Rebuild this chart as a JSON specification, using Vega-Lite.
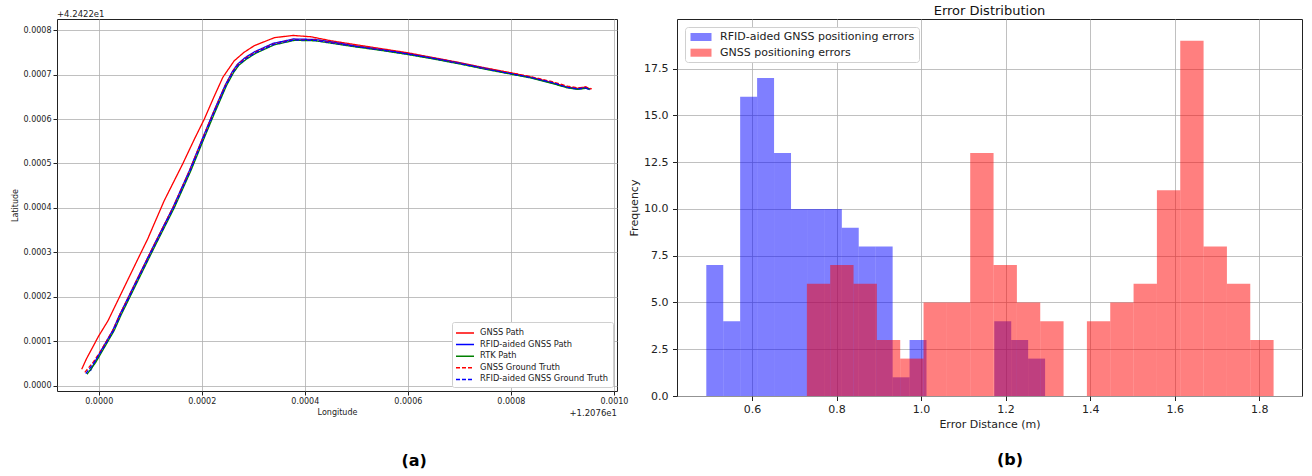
{
  "$schema": "https://vega.github.io/schema/vega-lite/v6.json",
  "background": "white",
  "padding": {"left": 10, "top": 4, "right": 2, "bottom": 4},
  "spacing": -1,
  "columns": 2,
  "align": "none",
  "resolve": {"scale": {"color": "independent", "strokeDash": "independent", "x": "independent", "y": "independent"}, "legend": {"color": "independent", "strokeDash": "independent"}},
  "config": {
    "font": "DejaVu Sans",
    "view": {"stroke": "#222", "strokeWidth": 1},
    "axis": {"gridColor": "#b0b0b0", "gridWidth": 0.8, "domain": false, "tickColor": "#222", "labelColor": "#222", "titleColor": "#222", "titleFontWeight": "normal", "labelFlush": false, "labelOverlap": false},
    "legend": {"labelLimit": 400},
    "title": {"color": "#111"}
  },
  "datasets": {
    "paths": [
      {"s": "GNSS Path", "i": 0, "x": -0.000033, "y": 0.000037},
      {"s": "GNSS Path", "i": 1, "x": -0.000024, "y": 0.000060},
      {"s": "GNSS Path", "i": 2, "x": -0.000012, "y": 0.000086},
      {"s": "GNSS Path", "i": 3, "x": 0.000000, "y": 0.000112},
      {"s": "GNSS Path", "i": 4, "x": 0.000018, "y": 0.000146},
      {"s": "GNSS Path", "i": 5, "x": 0.000043, "y": 0.000206},
      {"s": "GNSS Path", "i": 6, "x": 0.000076, "y": 0.000285},
      {"s": "GNSS Path", "i": 7, "x": 0.000095, "y": 0.000330},
      {"s": "GNSS Path", "i": 8, "x": 0.000127, "y": 0.000416},
      {"s": "GNSS Path", "i": 9, "x": 0.000163, "y": 0.000499},
      {"s": "GNSS Path", "i": 10, "x": 0.000185, "y": 0.000553},
      {"s": "GNSS Path", "i": 11, "x": 0.000205, "y": 0.000600},
      {"s": "GNSS Path", "i": 12, "x": 0.000223, "y": 0.000648},
      {"s": "GNSS Path", "i": 13, "x": 0.000241, "y": 0.000694},
      {"s": "GNSS Path", "i": 14, "x": 0.000263, "y": 0.000731},
      {"s": "GNSS Path", "i": 15, "x": 0.000282, "y": 0.000750},
      {"s": "GNSS Path", "i": 16, "x": 0.000302, "y": 0.000765},
      {"s": "GNSS Path", "i": 17, "x": 0.000341, "y": 0.000783},
      {"s": "GNSS Path", "i": 18, "x": 0.000377, "y": 0.000788},
      {"s": "GNSS Path", "i": 19, "x": 0.000412, "y": 0.000785},
      {"s": "GNSS Path", "i": 20, "x": 0.000451, "y": 0.000776},
      {"s": "GNSS Path", "i": 21, "x": 0.000500, "y": 0.000767},
      {"s": "GNSS Path", "i": 22, "x": 0.000550, "y": 0.000758},
      {"s": "GNSS Path", "i": 23, "x": 0.000600, "y": 0.000749},
      {"s": "GNSS Path", "i": 24, "x": 0.000650, "y": 0.000738},
      {"s": "GNSS Path", "i": 25, "x": 0.000700, "y": 0.000727},
      {"s": "GNSS Path", "i": 26, "x": 0.000750, "y": 0.000715},
      {"s": "GNSS Path", "i": 27, "x": 0.000800, "y": 0.000704},
      {"s": "GNSS Path", "i": 28, "x": 0.000840, "y": 0.000694},
      {"s": "GNSS Path", "i": 29, "x": 0.000880, "y": 0.000682},
      {"s": "GNSS Path", "i": 30, "x": 0.000910, "y": 0.000672},
      {"s": "GNSS Path", "i": 31, "x": 0.000930, "y": 0.000669},
      {"s": "GNSS Path", "i": 32, "x": 0.000945, "y": 0.000672},
      {"s": "GNSS Path", "i": 33, "x": 0.000955, "y": 0.000667},

      {"s": "RFID-aided GNSS Path", "i": 0, "x": -0.0000163, "y": 0.000033},
      {"s": "RFID-aided GNSS Path", "i": 1, "x": -0.000009, "y": 0.000050},
      {"s": "RFID-aided GNSS Path", "i": 2, "x": 0.000005, "y": 0.000080},
      {"s": "RFID-aided GNSS Path", "i": 3, "x": 0.000017, "y": 0.000104},
      {"s": "RFID-aided GNSS Path", "i": 4, "x": 0.000027, "y": 0.000124},
      {"s": "RFID-aided GNSS Path", "i": 5, "x": 0.000040, "y": 0.000158},
      {"s": "RFID-aided GNSS Path", "i": 6, "x": 0.000073, "y": 0.000236},
      {"s": "RFID-aided GNSS Path", "i": 7, "x": 0.000107, "y": 0.000316},
      {"s": "RFID-aided GNSS Path", "i": 8, "x": 0.000144, "y": 0.000401},
      {"s": "RFID-aided GNSS Path", "i": 9, "x": 0.000176, "y": 0.000484},
      {"s": "RFID-aided GNSS Path", "i": 10, "x": 0.000202, "y": 0.000558},
      {"s": "RFID-aided GNSS Path", "i": 11, "x": 0.000221, "y": 0.000611},
      {"s": "RFID-aided GNSS Path", "i": 12, "x": 0.000245, "y": 0.000675},
      {"s": "RFID-aided GNSS Path", "i": 13, "x": 0.000259, "y": 0.000706},
      {"s": "RFID-aided GNSS Path", "i": 14, "x": 0.000269, "y": 0.000723},
      {"s": "RFID-aided GNSS Path", "i": 15, "x": 0.000284, "y": 0.000738},
      {"s": "RFID-aided GNSS Path", "i": 16, "x": 0.000302, "y": 0.000751},
      {"s": "RFID-aided GNSS Path", "i": 17, "x": 0.000338, "y": 0.000770},
      {"s": "RFID-aided GNSS Path", "i": 18, "x": 0.000378, "y": 0.000780},
      {"s": "RFID-aided GNSS Path", "i": 19, "x": 0.000420, "y": 0.000779},
      {"s": "RFID-aided GNSS Path", "i": 20, "x": 0.000460, "y": 0.000772},
      {"s": "RFID-aided GNSS Path", "i": 21, "x": 0.000500, "y": 0.000764},
      {"s": "RFID-aided GNSS Path", "i": 22, "x": 0.000550, "y": 0.000756},
      {"s": "RFID-aided GNSS Path", "i": 23, "x": 0.000600, "y": 0.000747},
      {"s": "RFID-aided GNSS Path", "i": 24, "x": 0.000650, "y": 0.000737},
      {"s": "RFID-aided GNSS Path", "i": 25, "x": 0.000700, "y": 0.000726},
      {"s": "RFID-aided GNSS Path", "i": 26, "x": 0.000750, "y": 0.000714},
      {"s": "RFID-aided GNSS Path", "i": 27, "x": 0.000800, "y": 0.000702},
      {"s": "RFID-aided GNSS Path", "i": 28, "x": 0.000840, "y": 0.000693},
      {"s": "RFID-aided GNSS Path", "i": 29, "x": 0.000880, "y": 0.000681},
      {"s": "RFID-aided GNSS Path", "i": 30, "x": 0.000910, "y": 0.000671},
      {"s": "RFID-aided GNSS Path", "i": 31, "x": 0.000930, "y": 0.000667},
      {"s": "RFID-aided GNSS Path", "i": 32, "x": 0.000945, "y": 0.000670},
      {"s": "RFID-aided GNSS Path", "i": 33, "x": 0.000953, "y": 0.000666},

      {"s": "RTK Path", "i": 0, "x": -0.0000227, "y": 0.0000257},
      {"s": "RTK Path", "i": 1, "x": -0.000006, "y": 0.000052},
      {"s": "RTK Path", "i": 2, "x": 0.000008, "y": 0.000080},
      {"s": "RTK Path", "i": 3, "x": 0.000020, "y": 0.000104},
      {"s": "RTK Path", "i": 4, "x": 0.000030, "y": 0.000124},
      {"s": "RTK Path", "i": 5, "x": 0.000043, "y": 0.000158},
      {"s": "RTK Path", "i": 6, "x": 0.000076, "y": 0.000236},
      {"s": "RTK Path", "i": 7, "x": 0.000110, "y": 0.000316},
      {"s": "RTK Path", "i": 8, "x": 0.000147, "y": 0.000401},
      {"s": "RTK Path", "i": 9, "x": 0.000179, "y": 0.000484},
      {"s": "RTK Path", "i": 10, "x": 0.000205, "y": 0.000558},
      {"s": "RTK Path", "i": 11, "x": 0.000224, "y": 0.000611},
      {"s": "RTK Path", "i": 12, "x": 0.000248, "y": 0.000675},
      {"s": "RTK Path", "i": 13, "x": 0.000262, "y": 0.000705},
      {"s": "RTK Path", "i": 14, "x": 0.000272, "y": 0.000721},
      {"s": "RTK Path", "i": 15, "x": 0.000287, "y": 0.000735},
      {"s": "RTK Path", "i": 16, "x": 0.000305, "y": 0.000748},
      {"s": "RTK Path", "i": 17, "x": 0.000341, "y": 0.000767},
      {"s": "RTK Path", "i": 18, "x": 0.000380, "y": 0.000777},
      {"s": "RTK Path", "i": 19, "x": 0.000420, "y": 0.000776},
      {"s": "RTK Path", "i": 20, "x": 0.000460, "y": 0.000769},
      {"s": "RTK Path", "i": 21, "x": 0.000500, "y": 0.000762},
      {"s": "RTK Path", "i": 22, "x": 0.000550, "y": 0.000754},
      {"s": "RTK Path", "i": 23, "x": 0.000600, "y": 0.000745},
      {"s": "RTK Path", "i": 24, "x": 0.000650, "y": 0.000735},
      {"s": "RTK Path", "i": 25, "x": 0.000700, "y": 0.000724},
      {"s": "RTK Path", "i": 26, "x": 0.000750, "y": 0.000712},
      {"s": "RTK Path", "i": 27, "x": 0.000800, "y": 0.000701},
      {"s": "RTK Path", "i": 28, "x": 0.000840, "y": 0.000692},
      {"s": "RTK Path", "i": 29, "x": 0.000880, "y": 0.000680},
      {"s": "RTK Path", "i": 30, "x": 0.000910, "y": 0.000670},
      {"s": "RTK Path", "i": 31, "x": 0.000930, "y": 0.000667},
      {"s": "RTK Path", "i": 32, "x": 0.000945, "y": 0.000669},
      {"s": "RTK Path", "i": 33, "x": 0.000953, "y": 0.000668},

      {"s": "GNSS Ground Truth", "i": 0, "x": -0.000027, "y": 0.000030},
      {"s": "GNSS Ground Truth", "i": 1, "x": -0.000010, "y": 0.000054},
      {"s": "GNSS Ground Truth", "i": 2, "x": 0.000006, "y": 0.000082},
      {"s": "GNSS Ground Truth", "i": 3, "x": 0.000018, "y": 0.000106},
      {"s": "GNSS Ground Truth", "i": 4, "x": 0.000028, "y": 0.000126},
      {"s": "GNSS Ground Truth", "i": 5, "x": 0.000041, "y": 0.000160},
      {"s": "GNSS Ground Truth", "i": 6, "x": 0.000074, "y": 0.000238},
      {"s": "GNSS Ground Truth", "i": 7, "x": 0.000108, "y": 0.000318},
      {"s": "GNSS Ground Truth", "i": 8, "x": 0.000145, "y": 0.000403},
      {"s": "GNSS Ground Truth", "i": 9, "x": 0.000177, "y": 0.000486},
      {"s": "GNSS Ground Truth", "i": 10, "x": 0.000203, "y": 0.000560},
      {"s": "GNSS Ground Truth", "i": 11, "x": 0.000222, "y": 0.000613},
      {"s": "GNSS Ground Truth", "i": 12, "x": 0.000246, "y": 0.000677},
      {"s": "GNSS Ground Truth", "i": 13, "x": 0.000260, "y": 0.000707},
      {"s": "GNSS Ground Truth", "i": 14, "x": 0.000270, "y": 0.000723},
      {"s": "GNSS Ground Truth", "i": 15, "x": 0.000285, "y": 0.000737},
      {"s": "GNSS Ground Truth", "i": 16, "x": 0.000303, "y": 0.000750},
      {"s": "GNSS Ground Truth", "i": 17, "x": 0.000340, "y": 0.000769},
      {"s": "GNSS Ground Truth", "i": 18, "x": 0.000379, "y": 0.000779},
      {"s": "GNSS Ground Truth", "i": 19, "x": 0.000420, "y": 0.000778},
      {"s": "GNSS Ground Truth", "i": 20, "x": 0.000460, "y": 0.000771},
      {"s": "GNSS Ground Truth", "i": 21, "x": 0.000500, "y": 0.000764},
      {"s": "GNSS Ground Truth", "i": 22, "x": 0.000550, "y": 0.000756},
      {"s": "GNSS Ground Truth", "i": 23, "x": 0.000600, "y": 0.000747},
      {"s": "GNSS Ground Truth", "i": 24, "x": 0.000650, "y": 0.000737},
      {"s": "GNSS Ground Truth", "i": 25, "x": 0.000700, "y": 0.000726},
      {"s": "GNSS Ground Truth", "i": 26, "x": 0.000750, "y": 0.000714},
      {"s": "GNSS Ground Truth", "i": 27, "x": 0.000800, "y": 0.000704},
      {"s": "GNSS Ground Truth", "i": 28, "x": 0.000840, "y": 0.000695},
      {"s": "GNSS Ground Truth", "i": 29, "x": 0.000880, "y": 0.000684},
      {"s": "GNSS Ground Truth", "i": 30, "x": 0.000910, "y": 0.000674},
      {"s": "GNSS Ground Truth", "i": 31, "x": 0.000930, "y": 0.000670},
      {"s": "GNSS Ground Truth", "i": 32, "x": 0.000945, "y": 0.000672},
      {"s": "GNSS Ground Truth", "i": 33, "x": 0.000957, "y": 0.000668},

      {"s": "RFID-aided GNSS Ground Truth", "i": 0, "x": -0.000025, "y": 0.000027},
      {"s": "RFID-aided GNSS Ground Truth", "i": 1, "x": -0.000009, "y": 0.000052},
      {"s": "RFID-aided GNSS Ground Truth", "i": 2, "x": 0.000007, "y": 0.000081},
      {"s": "RFID-aided GNSS Ground Truth", "i": 3, "x": 0.000019, "y": 0.000105},
      {"s": "RFID-aided GNSS Ground Truth", "i": 4, "x": 0.000029, "y": 0.000125},
      {"s": "RFID-aided GNSS Ground Truth", "i": 5, "x": 0.000042, "y": 0.000159},
      {"s": "RFID-aided GNSS Ground Truth", "i": 6, "x": 0.000075, "y": 0.000237},
      {"s": "RFID-aided GNSS Ground Truth", "i": 7, "x": 0.000109, "y": 0.000317},
      {"s": "RFID-aided GNSS Ground Truth", "i": 8, "x": 0.000146, "y": 0.000402},
      {"s": "RFID-aided GNSS Ground Truth", "i": 9, "x": 0.000178, "y": 0.000485},
      {"s": "RFID-aided GNSS Ground Truth", "i": 10, "x": 0.000204, "y": 0.000559},
      {"s": "RFID-aided GNSS Ground Truth", "i": 11, "x": 0.000223, "y": 0.000612},
      {"s": "RFID-aided GNSS Ground Truth", "i": 12, "x": 0.000247, "y": 0.000676},
      {"s": "RFID-aided GNSS Ground Truth", "i": 13, "x": 0.000261, "y": 0.000706},
      {"s": "RFID-aided GNSS Ground Truth", "i": 14, "x": 0.000271, "y": 0.000722},
      {"s": "RFID-aided GNSS Ground Truth", "i": 15, "x": 0.000286, "y": 0.000736},
      {"s": "RFID-aided GNSS Ground Truth", "i": 16, "x": 0.000304, "y": 0.000749},
      {"s": "RFID-aided GNSS Ground Truth", "i": 17, "x": 0.000340, "y": 0.000768},
      {"s": "RFID-aided GNSS Ground Truth", "i": 18, "x": 0.000380, "y": 0.000778},
      {"s": "RFID-aided GNSS Ground Truth", "i": 19, "x": 0.000420, "y": 0.000777},
      {"s": "RFID-aided GNSS Ground Truth", "i": 20, "x": 0.000460, "y": 0.000770},
      {"s": "RFID-aided GNSS Ground Truth", "i": 21, "x": 0.000500, "y": 0.000763},
      {"s": "RFID-aided GNSS Ground Truth", "i": 22, "x": 0.000550, "y": 0.000755},
      {"s": "RFID-aided GNSS Ground Truth", "i": 23, "x": 0.000600, "y": 0.000746},
      {"s": "RFID-aided GNSS Ground Truth", "i": 24, "x": 0.000650, "y": 0.000736},
      {"s": "RFID-aided GNSS Ground Truth", "i": 25, "x": 0.000700, "y": 0.000725},
      {"s": "RFID-aided GNSS Ground Truth", "i": 26, "x": 0.000750, "y": 0.000713},
      {"s": "RFID-aided GNSS Ground Truth", "i": 27, "x": 0.000800, "y": 0.000702},
      {"s": "RFID-aided GNSS Ground Truth", "i": 28, "x": 0.000840, "y": 0.000693},
      {"s": "RFID-aided GNSS Ground Truth", "i": 29, "x": 0.000880, "y": 0.000682},
      {"s": "RFID-aided GNSS Ground Truth", "i": 30, "x": 0.000910, "y": 0.000671},
      {"s": "RFID-aided GNSS Ground Truth", "i": 31, "x": 0.000930, "y": 0.000668},
      {"s": "RFID-aided GNSS Ground Truth", "i": 32, "x": 0.000945, "y": 0.000670},
      {"s": "RFID-aided GNSS Ground Truth", "i": 33, "x": 0.000954, "y": 0.000667}
    ],
    "hist": [
      {"s": "RFID-aided GNSS positioning errors", "x0": 0.4920, "x1": 0.5321, "n": 7},
      {"s": "RFID-aided GNSS positioning errors", "x0": 0.5321, "x1": 0.5721, "n": 4},
      {"s": "RFID-aided GNSS positioning errors", "x0": 0.5721, "x1": 0.6122, "n": 16},
      {"s": "RFID-aided GNSS positioning errors", "x0": 0.6122, "x1": 0.6523, "n": 17},
      {"s": "RFID-aided GNSS positioning errors", "x0": 0.6523, "x1": 0.6924, "n": 13},
      {"s": "RFID-aided GNSS positioning errors", "x0": 0.6924, "x1": 0.7324, "n": 10},
      {"s": "RFID-aided GNSS positioning errors", "x0": 0.7324, "x1": 0.7725, "n": 10},
      {"s": "RFID-aided GNSS positioning errors", "x0": 0.7725, "x1": 0.8126, "n": 10},
      {"s": "RFID-aided GNSS positioning errors", "x0": 0.8126, "x1": 0.8526, "n": 9},
      {"s": "RFID-aided GNSS positioning errors", "x0": 0.8526, "x1": 0.8927, "n": 8},
      {"s": "RFID-aided GNSS positioning errors", "x0": 0.8927, "x1": 0.9328, "n": 8},
      {"s": "RFID-aided GNSS positioning errors", "x0": 0.9328, "x1": 0.9728, "n": 1},
      {"s": "RFID-aided GNSS positioning errors", "x0": 0.9728, "x1": 1.0129, "n": 3},
      {"s": "RFID-aided GNSS positioning errors", "x0": 1.1732, "x1": 1.2133, "n": 4},
      {"s": "RFID-aided GNSS positioning errors", "x0": 1.2133, "x1": 1.2533, "n": 3},
      {"s": "RFID-aided GNSS positioning errors", "x0": 1.2533, "x1": 1.2934, "n": 2},
      {"s": "GNSS positioning errors", "x0": 0.7299, "x1": 0.7851, "n": 6},
      {"s": "GNSS positioning errors", "x0": 0.7851, "x1": 0.8403, "n": 7},
      {"s": "GNSS positioning errors", "x0": 0.8403, "x1": 0.8955, "n": 6},
      {"s": "GNSS positioning errors", "x0": 0.8955, "x1": 0.9507, "n": 3},
      {"s": "GNSS positioning errors", "x0": 0.9507, "x1": 1.0059, "n": 2},
      {"s": "GNSS positioning errors", "x0": 1.0059, "x1": 1.0611, "n": 5},
      {"s": "GNSS positioning errors", "x0": 1.0611, "x1": 1.1163, "n": 5},
      {"s": "GNSS positioning errors", "x0": 1.1163, "x1": 1.1715, "n": 13},
      {"s": "GNSS positioning errors", "x0": 1.1715, "x1": 1.2267, "n": 7},
      {"s": "GNSS positioning errors", "x0": 1.2267, "x1": 1.2819, "n": 5},
      {"s": "GNSS positioning errors", "x0": 1.2819, "x1": 1.3371, "n": 4},
      {"s": "GNSS positioning errors", "x0": 1.3923, "x1": 1.4475, "n": 4},
      {"s": "GNSS positioning errors", "x0": 1.4475, "x1": 1.5027, "n": 5},
      {"s": "GNSS positioning errors", "x0": 1.5027, "x1": 1.5579, "n": 6},
      {"s": "GNSS positioning errors", "x0": 1.5579, "x1": 1.6131, "n": 11},
      {"s": "GNSS positioning errors", "x0": 1.6131, "x1": 1.6683, "n": 19},
      {"s": "GNSS positioning errors", "x0": 1.6683, "x1": 1.7235, "n": 8},
      {"s": "GNSS positioning errors", "x0": 1.7235, "x1": 1.7787, "n": 6},
      {"s": "GNSS positioning errors", "x0": 1.7787, "x1": 1.8339, "n": 3}
    ]
  },
  "concat": [
    {
      "title": {"text": "(a)", "orient": "bottom", "anchor": "start", "fontSize": 16, "fontWeight": "bold", "dx": 391, "offset": 35, "color": "#000"},
      "resolve": {"scale": {"color": "independent", "strokeDash": "independent"}, "legend": {"color": "independent", "strokeDash": "independent"}},
      "vconcat": [
        {
          "title": {"text": "+4.2422e1", "anchor": "start", "frame": "group", "fontSize": 8.5, "fontWeight": "normal", "offset": 1, "color": "#222"},
          "width": 560,
          "height": 372,
          "layer": [
            {
              "data": {"name": "paths"},
              "mark": {"type": "line", "strokeWidth": 1.3},
              "encoding": {
                "x": {"field": "x", "type": "quantitative", "scale": {"domain": [-0.000081, 0.001006], "nice": false, "zero": false},
                  "axis": {"values": [0, 0.0002, 0.0004, 0.0006, 0.0008, 0.001], "format": ".4f", "labelFontSize": 8, "tickSize": 4, "labelPadding": 2, "title": "Longitude", "titleFontSize": 8, "titlePadding": 3}},
                "y": {"field": "y", "type": "quantitative", "scale": {"domain": [-0.000012, 0.000825], "nice": false, "zero": false},
                  "axis": {"values": [0, 0.0001, 0.0002, 0.0003, 0.0004, 0.0005, 0.0006, 0.0007, 0.0008], "format": ".4f", "labelFontSize": 8, "tickSize": 4, "labelPadding": 2, "title": "Latitude", "titleFontSize": 8, "titlePadding": 4}},
                "order": {"field": "i", "type": "quantitative"},
                "color": {"field": "s", "type": "nominal",
                  "scale": {"domain": ["GNSS Path", "RFID-aided GNSS Path", "RTK Path", "GNSS Ground Truth", "RFID-aided GNSS Ground Truth"], "range": ["#ff0000", "#0000ff", "#008000", "#ff0000", "#0000ff"]},
                  "legend": {"orient": "bottom-right", "title": null, "offset": 4, "labelFontSize": 8.3, "symbolType": "M-1.5,0L1.5,0", "symbolSize": 144, "symbolStrokeWidth": 1.5, "symbolOffset": 2, "fillColor": "white", "strokeColor": "#d0d0d0", "padding": 4, "cornerRadius": 2, "rowPadding": 0.6, "labelOffset": 8, "labelColor": "#222"}},
                "strokeDash": {"field": "s", "type": "nominal",
                  "scale": {"domain": ["GNSS Path", "RFID-aided GNSS Path", "RTK Path", "GNSS Ground Truth", "RFID-aided GNSS Ground Truth"], "range": [[1, 0], [1, 0], [1, 0], [4, 2], [4, 2]]},
                  "legend": {"orient": "bottom-right", "title": null, "offset": 4, "labelFontSize": 8.3, "symbolType": "M-1.5,0L1.5,0", "symbolSize": 144, "symbolStrokeWidth": 1.5, "symbolOffset": 2, "fillColor": "white", "strokeColor": "#d0d0d0", "padding": 4, "cornerRadius": 2, "rowPadding": 0.6, "labelOffset": 8, "labelColor": "#222"}}
              }
            },
            {
              "data": {"values": [{"t": "+1.2076e1", "x": 0.001006, "y": -0.000012}]},
              "mark": {"type": "text", "align": "right", "baseline": "top", "dy": 18, "fontSize": 8.5, "color": "#222"},
              "encoding": {
                "x": {"field": "x", "type": "quantitative"},
                "y": {"field": "y", "type": "quantitative"},
                "text": {"field": "t", "type": "nominal"}
              }
            }
          ]
        }
      ]
    },
    {
      "title": {"text": "(b)", "orient": "bottom", "anchor": "start", "fontSize": 16, "fontWeight": "bold", "dx": 369, "offset": 22, "color": "#000"},
      "resolve": {"scale": {"color": "independent"}, "legend": {"color": "independent"}},
      "vconcat": [
        {
          "title": {"text": "Error Distribution", "anchor": "middle", "frame": "group", "fontSize": 13, "fontWeight": "normal", "offset": 1, "color": "#111"},
          "width": 625,
          "height": 377,
          "data": {"name": "hist"},
          "mark": {"type": "rect", "opacity": 0.5, "strokeWidth": 0},
          "encoding": {
            "x": {"field": "x0", "type": "quantitative", "scale": {"domain": [0.4227, 1.9011], "nice": false, "zero": false},
              "axis": {"values": [0.6, 0.8, 1.0, 1.2, 1.4, 1.6, 1.8], "format": ".1f", "labelFontSize": 11, "tickSize": 4.5, "labelPadding": 3, "title": "Error Distance (m)", "titleFontSize": 11, "titlePadding": 4}},
            "x2": {"field": "x1"},
            "y": {"field": "n", "type": "quantitative", "scale": {"domain": [0, 20.16], "nice": false},
              "axis": {"values": [0, 2.5, 5, 7.5, 10, 12.5, 15, 17.5], "format": ".1f", "labelFontSize": 11, "tickSize": 4.5, "labelPadding": 4.5, "title": "Frequency", "titleFontSize": 11, "titlePadding": 4}},
            "y2": {"datum": 0},
            "color": {"field": "s", "type": "nominal",
              "scale": {"domain": ["RFID-aided GNSS positioning errors", "GNSS positioning errors"], "range": ["#0000ff", "#ff0000"]},
              "legend": {"orient": "top-left", "title": null, "offset": 8, "labelFontSize": 11, "symbolType": "M-1.75,-0.67H1.75V0.67H-1.75Z", "symbolSize": 144, "symbolOffset": 6, "symbolOpacity": 0.5, "symbolStrokeWidth": 0, "fillColor": "white", "strokeColor": "#d0d0d0", "padding": 4, "cornerRadius": 3, "rowPadding": 4.7, "labelOffset": 13, "labelColor": "#222"}}
          }
        }
      ]
    }
  ]
}
